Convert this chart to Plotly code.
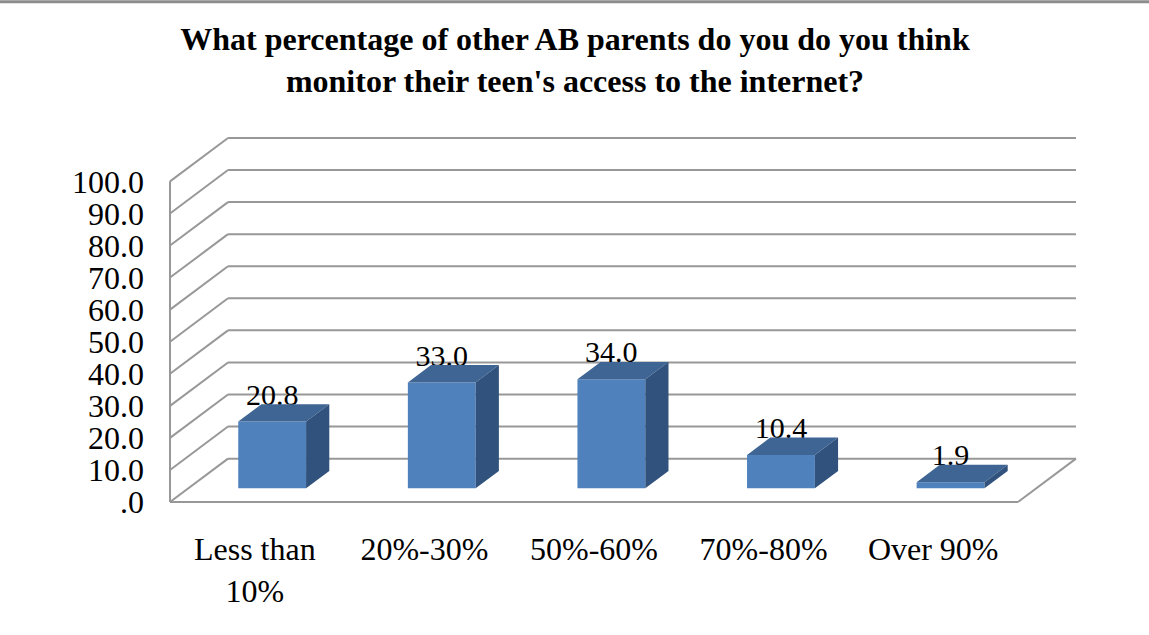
import plotly.graph_objects as go

# Data
categories = ["Less than<br>10%", "20%-30%", "50%-60%", "70%-80%", "Over 90%"]
values = [20.8, 33.0, 34.0, 10.4, 1.9]
value_labels = ["20.8", "33.0", "34.0", "10.4", "1.9"]
tick_values = [0, 10, 20, 30, 40, 50, 60, 70, 80, 90, 100]
tick_labels = [".0", "10.0", "20.0", "30.0", "40.0", "50.0", "60.0", "70.0", "80.0", "90.0", "100.0"]
title_text = "What percentage of other AB parents do you do you think<br>monitor their teen's access to the internet?"

# Oblique projection: a point at depth d (0 front, 1 back) shifts right and up
DEPTH_X = 0.342
DEPTH_Y = 13.53
BAR_WIDTH = 0.4
BAR_D0, BAR_D1 = 0.317, 0.717
BAR_NUDGE = -0.006
LABEL_GAP = 7.6
PAD_X, PAD_Y = 0.059, 3.11  # room round the walls so edge lines are not clipped

GRID = "#989898"
FRONT, TOP, SIDE = "#4F81BD", "#3E6593", "#31527C"
FONT = "Liberation Serif"

n = len(categories)
positions = [i + 0.5 for i in range(n)]
bar_positions = [p + BAR_NUDGE for p in positions]
x_max = n + DEPTH_X
y_max = max(tick_values) + DEPTH_Y


def proj(x, v, d):
    return x + d * DEPTH_X, v + d * DEPTH_Y


fig = go.Figure()

# Front faces
fig.add_trace(go.Bar(
    x=[p + BAR_D0 * DEPTH_X for p in bar_positions],
    y=values,
    base=[BAR_D0 * DEPTH_Y] * n,
    width=BAR_WIDTH,
    marker=dict(color=FRONT, line=dict(width=0)),
    showlegend=False,
))

# Value labels
fig.add_trace(go.Scatter(
    x=[p + BAR_D0 * DEPTH_X for p in bar_positions],
    y=[v + BAR_D0 * DEPTH_Y + LABEL_GAP for v in values],
    mode="text",
    text=value_labels,
    textposition="middle center",
    textfont=dict(family=FONT, size=30, color="#000000"),
    showlegend=False,
    cliponaxis=False,
))

# Top and side faces
for p, v in zip(bar_positions, values):
    l, r = p - BAR_WIDTH / 2, p + BAR_WIDTH / 2
    top = [proj(l, v, BAR_D0), proj(r, v, BAR_D0), proj(r, v, BAR_D1), proj(l, v, BAR_D1), proj(l, v, BAR_D0)]
    side = [proj(r, 0, BAR_D0), proj(r, v, BAR_D0), proj(r, v, BAR_D1), proj(r, 0, BAR_D1), proj(r, 0, BAR_D0)]
    for face, colour in ((top, TOP), (side, SIDE)):
        fig.add_trace(go.Scatter(
            x=[a for a, _ in face], y=[b for _, b in face],
            mode="lines", fill="toself", fillcolor=colour,
            line=dict(width=0, color=colour), showlegend=False, hoverinfo="skip",
        ))

# Walls, gridlines and floor, under the bars
line = dict(color=GRID, width=2)
shapes = []


def seg(x0, y0, x1, y1):
    shapes.append(dict(type="line", xref="x", yref="y", x0=x0, y0=y0, x1=x1, y1=y1, line=line, layer="below"))


for t in tick_values:
    seg(0, t, DEPTH_X, t + DEPTH_Y)
    seg(DEPTH_X, t + DEPTH_Y, x_max, t + DEPTH_Y)
seg(0, 0, 0, max(tick_values))
seg(0, 0, n, 0)
seg(n, 0, x_max, DEPTH_Y)

# Grey edge along the top of the picture
shapes.append(dict(type="line", xref="paper", yref="paper",
                   x0=-0.2, x1=1.1, y0=1.3286, y1=1.3286,
                   line=dict(color="#8C8C8C", width=3)))

fig.update_layout(
    width=1149, height=635, autosize=False,
    margin=dict(l=160, r=63, t=127.5, b=122.5, autoexpand=False),
    paper_bgcolor="#FFFFFF", plot_bgcolor="rgba(0,0,0,0)",
    showlegend=False,
    shapes=shapes,
    title=dict(
        text=title_text,
        x=575 / 1149, xanchor="center", xref="container",
        y=1 - 50 / 635, yanchor="top", yref="container",
        font=dict(family=FONT, size=32, color="#000000", weight="bold"),
    ),
    xaxis=dict(
        range=[-PAD_X, x_max + PAD_X], showgrid=False, zeroline=False, showline=False,
        tickmode="array", tickvals=positions, ticktext=categories,
        ticks="", ticklabelstandoff=15, tickangle=0,
        tickfont=dict(family=FONT, size=32, color="#000000"),
    ),
    yaxis=dict(
        range=[-PAD_Y, y_max + PAD_Y], showgrid=False, zeroline=False, showline=False,
        tickmode="array", tickvals=tick_values, ticktext=tick_labels,
        ticks="", ticklabelstandoff=15,
        tickfont=dict(family=FONT, size=32, color="#000000"),
    ),
)

# The page's default body margin would push the chart off the picture's edge
fig.write_html(
    "out.html",
    config={"displayModeBar": False},
    post_script="document.body.style.margin='0';document.documentElement.style.overflow='hidden';",
)
